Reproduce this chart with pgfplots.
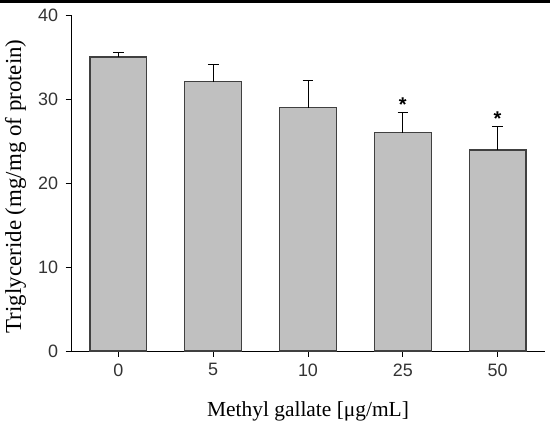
\documentclass[border=0pt]{standalone}
\usepackage{pgfplots}
\pgfplotsset{compat=1.18}
\usepackage{fontspec}
\setmainfont{Liberation Serif}
\newfontfamily\arial{Liberation Sans}

\definecolor{barfill}{RGB}{192,192,192}
\definecolor{baredge}{RGB}{64,64,64}

\begin{document}
\begin{tikzpicture}
  \useasboundingbox (0,0) rectangle (550bp,426bp);
  % dark strip along the top edge of the scan
  \fill[black] (0,423bp) rectangle (550bp,426bp);

  \begin{axis}[
    at={(71bp,75bp)}, anchor=south west,
    scale only axis,
    width=474bp, height=336bp,
    xmin=-0.5, xmax=4.5,
    ymin=0, ymax=40,
    axis x line*=bottom,
    axis y line*=left,
    axis line style={black, line width=0.9bp},
    xtick={0,1,2,3,4},
    xticklabels={0,5,10,25,50},
    ytick={0,10,20,30,40},
    tick align=outside,
    major tick length=5.5bp,
    tick style={black, line width=0.9bp},
    /pgf/number format/assume math mode=true,
    ticklabel style={font=\arial\fontsize{18}{18}\selectfont, text=black!80},
    xticklabel style={yshift=-3.5bp},
    yticklabel style={xshift=-4bp},
    ylabel={Triglyceride (mg/mg of protein)},
    xlabel={Methyl gallate [μg/mL]},
    every axis y label/.style={at={(axis description cs:-0.117,0.49)},
      rotate=90, anchor=center, font=\fontsize{23}{23}\selectfont},
    every axis x label/.style={at={(axis description cs:0.5,-0.1955)},
      anchor=base, font=\fontsize{21.5}{21.5}\selectfont},
    ybar, bar width=0.6,
    clip=false,
  ]
    \addplot[fill=barfill, draw=baredge, line width=1.3bp,
      error bars/.cd, y dir=plus, y explicit,
      error mark=|,
      error bar style={black, line width=1bp},
      error mark options={black, line width=1bp, mark size=5.3bp}]
      coordinates {
        (0,35.0) +- (0,0.5)
        (1,32.06) +- (0,2.1)
        (2,28.96) +- (0,3.2)
        (3,26.0) +- (0,2.45)
        (4,23.93) +- (0,2.75)
      };

    \node[anchor=base, inner sep=0pt, font=\arial\bfseries\fontsize{20}{20}\selectfont]
      at (axis cs:3,28.5) {*};
    \node[anchor=base, inner sep=0pt, font=\arial\bfseries\fontsize{20}{20}\selectfont]
      at (axis cs:4,26.85) {*};
  \end{axis}
\end{tikzpicture}
\end{document}
